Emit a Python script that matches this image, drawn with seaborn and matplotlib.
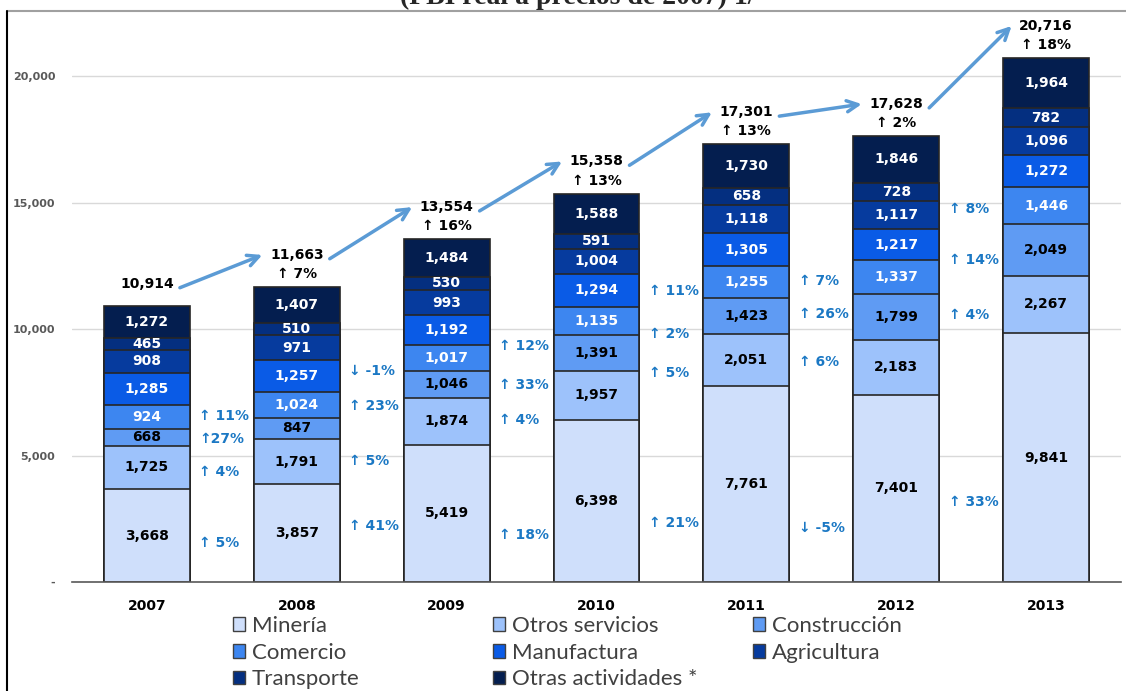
import matplotlib
matplotlib.use("Agg")
import matplotlib.pyplot as plt
import seaborn as sns
import numpy as np
import pandas as pd
from matplotlib.patches import Patch
from matplotlib.lines import Line2D

# ------------------ DATA ------------------
years = ["2007", "2008", "2009", "2010", "2011", "2012", "2013"]
sectors = ["Minería", "Otros servicios", "Construcción", "Comercio",
           "Manufactura", "Agricultura", "Transporte", "Otras actividades *"]

mineria = [3668, 3857, 5419, 6398, 7761, 7401, 9841]
otros_servicios = [1725, 1791, 1874, 1957, 2051, 2183, 2267]
construccion = [668, 847, 1046, 1391, 1423, 1799, 2049]
comercio = [924, 1024, 1017, 1135, 1255, 1337, 1446]
manufactura = [1285, 1257, 1192, 1294, 1305, 1217, 1272]
agricultura = [908, 971, 993, 1004, 1118, 1117, 1096]
transporte = [465, 510, 530, 591, 658, 728, 782]
otras = [1272, 1407, 1484, 1588, 1730, 1846, 1964]

totals = [10914, 11663, 13554, 15358, 17301, 17628, 20716]
total_growth = ["", "↑ 7%", "↑ 16%", "↑ 13%", "↑ 13%", "↑ 2%", "↑ 18%"]

# growth notes printed in the gaps between bars (label, height)
gap_labels = [
    ["↑ 11%", "↑27%", "↑ 4%", "↑ 5%"],
    ["↓ -1%", "↑ 23%", "↑ 5%", "↑ 41%"],
    ["↑ 12%", "↑ 33%", "↑ 4%", "↑ 18%"],
    ["↑ 11%", "↑ 2%", "↑ 5%", "↑ 21%"],
    ["↑ 7%", "↑ 26%", "↑ 6%", "↓ -5%"],
    ["↑ 8%", "↑ 14%", "↑ 4%", "↑ 33%"],
]
gap_heights = [
    [6550, 5650, 4350, 1550],
    [8350, 6950, 4800, 2200],
    [9350, 7800, 6400, 1850],
    [11500, 9800, 8250, 2350],
    [11900, 10600, 8700, 2150],
    [14750, 12750, 10550, 3150],
]

# ------------------ STYLE ------------------
colors = ["#cfdffb", "#9dc2fb", "#5f9bf3", "#3d86f0",
          "#0a5be6", "#063b9e", "#042f80", "#041e4f"]
text_colors = ["black", "black", "black", "white", "white", "white", "white", "white"]
NOTE_COLOR = "#1b78c4"
ARROW_COLOR = "#5b9bd5"
NUM_SIZE = 10

sns.set_theme(style="white")
plt.rcParams["font.family"] = ["DejaVu Sans"]

layers = [mineria, otros_servicios, construccion, comercio,
          manufactura, agricultura, transporte, otras]
df = pd.DataFrame({"year": np.repeat(years, len(sectors)),
                   "sector": sectors * len(years),
                   "value": np.array(layers).T.ravel()})
df["top"] = df.groupby("year")["value"].cumsum()
df["bottom"] = df["top"] - df["value"]

fig = plt.figure(figsize=(11.26, 6.91), dpi=100)
ax = fig.add_axes([72 / 1126, 109 / 691, 1049 / 1126, 570 / 691])

# stacked bars: draw cumulative heights from the top layer down
for k in range(len(sectors) - 1, -1, -1):
    sub = df[df["sector"] == sectors[k]]
    sns.barplot(data=sub, x="year", y="top", order=years, color=colors[k],
                width=0.573, edgecolor="#262626", linewidth=1.2,
                saturation=1, ax=ax, zorder=3)

# segment labels
for _, row in df.iterrows():
    k = sectors.index(row["sector"])
    i = years.index(row["year"])
    ax.text(i, row["bottom"] + row["value"] / 2, f"{row['value']:,}",
            ha="center", va="center", fontsize=NUM_SIZE, fontweight="bold",
            color=text_colors[k], zorder=5)

# totals above bars + trend arrows
label_y = []
for i, t in enumerate(totals):
    if total_growth[i]:
        ly = t + 1267
        ax.text(i, t + 515, total_growth[i], ha="center", va="center",
                fontsize=NUM_SIZE, fontweight="bold", color="black", zorder=5)
    else:
        ly = t + 870
    ax.text(i, ly, f"{t:,}", ha="center", va="center", fontsize=NUM_SIZE,
            fontweight="bold", color="black", zorder=5)
    label_y.append(ly)

for i in range(len(totals) - 1):
    ax.annotate("", xy=(i + 1 - 0.23, label_y[i + 1]), xytext=(i + 0.22, label_y[i] - 150),
                arrowprops=dict(arrowstyle="->", color=ARROW_COLOR, lw=2.5,
                                mutation_scale=20, shrinkA=0, shrinkB=0),
                annotation_clip=False, zorder=6)

# growth notes between bars
for g in range(len(gap_labels)):
    for lab, h in zip(gap_labels[g], gap_heights[g]):
        ax.text(g + 0.35, h, lab, ha="left", va="center", fontsize=NUM_SIZE,
                fontweight="bold", color=NOTE_COLOR, zorder=5)

# axes styling
ax.set_xlim(-0.5, 6.5)
ax.set_ylim(0, 22535)
ax.set_yticks([0, 5000, 10000, 15000, 20000])
ax.set_yticklabels(["-", "5,000", "10,000", "15,000", "20,000"])
ax.yaxis.grid(True, color="#d9d9d9", linewidth=1)
ax.set_axisbelow(True)
for s in ["left", "right", "top"]:
    ax.spines[s].set_visible(False)
ax.spines["bottom"].set_color("#595959")
ax.spines["bottom"].set_linewidth(1.2)
ax.spines["bottom"].set_zorder(4)
ax.tick_params(axis="y", length=0, pad=12, labelsize=8, labelcolor="#595959")
ax.tick_params(axis="x", length=0, pad=12, labelsize=10)
for lbl in ax.get_yticklabels():
    lbl.set_fontweight("bold")
for lbl in ax.get_xticklabels():
    lbl.set_fontweight("bold")
    lbl.set_color("black")
ax.set_xlabel("")
ax.set_ylabel("")

# legend: three columns, row-major order as in the original
handles = [Patch(facecolor=c, edgecolor="#404040", linewidth=1.0) for c in colors]
col_x = [233 / 1126, 493 / 1126, 753 / 1126]
for c in range(3):
    idx = [j for j in range(len(sectors)) if j % 3 == c]
    leg = fig.legend([handles[j] for j in idx], [sectors[j] for j in idx],
                     loc="upper left", bbox_to_anchor=(col_x[c], 1 - 616 / 691),
                     frameon=False, ncol=1, handlelength=0.55, handleheight=0.55,
                     handletextpad=0.3, labelspacing=0.3, borderpad=0, borderaxespad=0,
                     prop={"family": "Lato", "size": 16}, labelcolor="#404040")

# frame lines and clipped title
fig.add_artist(Line2D([7 / 1126, 1], [1 - 11 / 691] * 2, transform=fig.transFigure,
                      color="#a0a0a0", linewidth=1.5))
fig.add_artist(Line2D([7 / 1126, 7 / 1126], [0, 1 - 11 / 691], transform=fig.transFigure,
                      color="black", linewidth=1.5))
fig.text(578 / 1126, 1 - 4 / 691, "(PBI real a precios de 2007) 1/", ha="center",
         va="baseline", fontsize=20, fontweight="bold", family="Liberation Serif")

fig.savefig("out.png", dpi=100)
